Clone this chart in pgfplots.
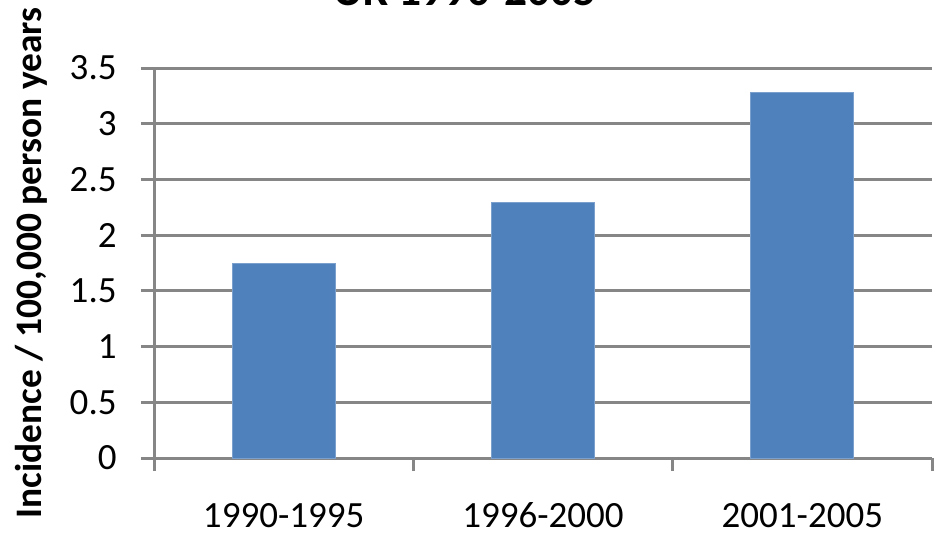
\documentclass[border=0pt]{standalone}
\usepackage{fontspec}
\setmainfont{Carlito}
\usepackage{pgfplots}
\pgfplotsset{compat=1.18}
\definecolor{barblue}{HTML}{4F81BD}
\definecolor{gridgray}{HTML}{868686}
\begin{document}
\begin{tikzpicture}
\begin{axis}[
  at={(0,0)}, anchor=south west,
  scale only axis, width=389pt, height=195pt,
  xmin=-0.5, xmax=2.5, ymin=0, ymax=3.5,
  axis x line*=bottom, axis y line*=left,
  axis line style={draw=gridgray, line width=1.5pt},
  ymajorgrids, grid style={draw=gridgray, line width=1.5pt},
  tick align=outside,
  tick style={draw=gridgray, line width=1.5pt},
  major tick length=6.5pt,
  ytick={0,0.5,1,1.5,2,2.5,3,3.5},
  yticklabels={0,0.5,1,1.5,2,2.5,3,3.5},
  yticklabel style={font=\fontsize{18.5pt}{22pt}\selectfont, anchor=east, inner sep=0pt, xshift=-12pt},
  xtick={-0.5,0.5,1.5,2.5},
  xticklabels={},
  extra x ticks={0,1,2},
  extra x tick labels={1990-1995,1996-2000,2001-2005},
  extra x tick style={major tick length=0pt, tick style={draw=none}},
  xticklabel style={font=\fontsize{18.5pt}{22pt}\selectfont, anchor=base, inner sep=0pt, yshift=-34.5pt},
  ylabel={Incidence / 100,000 person years},
  ylabel style={font=\bfseries\fontsize{18.7pt}{22pt}\selectfont, at={(axis description cs:-0.14396,0.5)}, anchor=base, inner sep=0pt},
  title={UK 1990-2005},
  title style={font=\bfseries\fontsize{22.7pt}{26pt}\selectfont, at={(axis description cs:0.39974,1.13077)}, anchor=base, inner sep=0pt},
]
\addplot[ybar, bar width=51.5pt, fill=barblue, draw=barblue!75!white, line width=0.4pt]
  coordinates {(0,1.75) (1,2.29) (2,3.28)};
\end{axis}
\pgfresetboundingbox
\useasboundingbox (-77pt,-38pt) rectangle (393pt,229pt);
\end{tikzpicture}
\end{document}
